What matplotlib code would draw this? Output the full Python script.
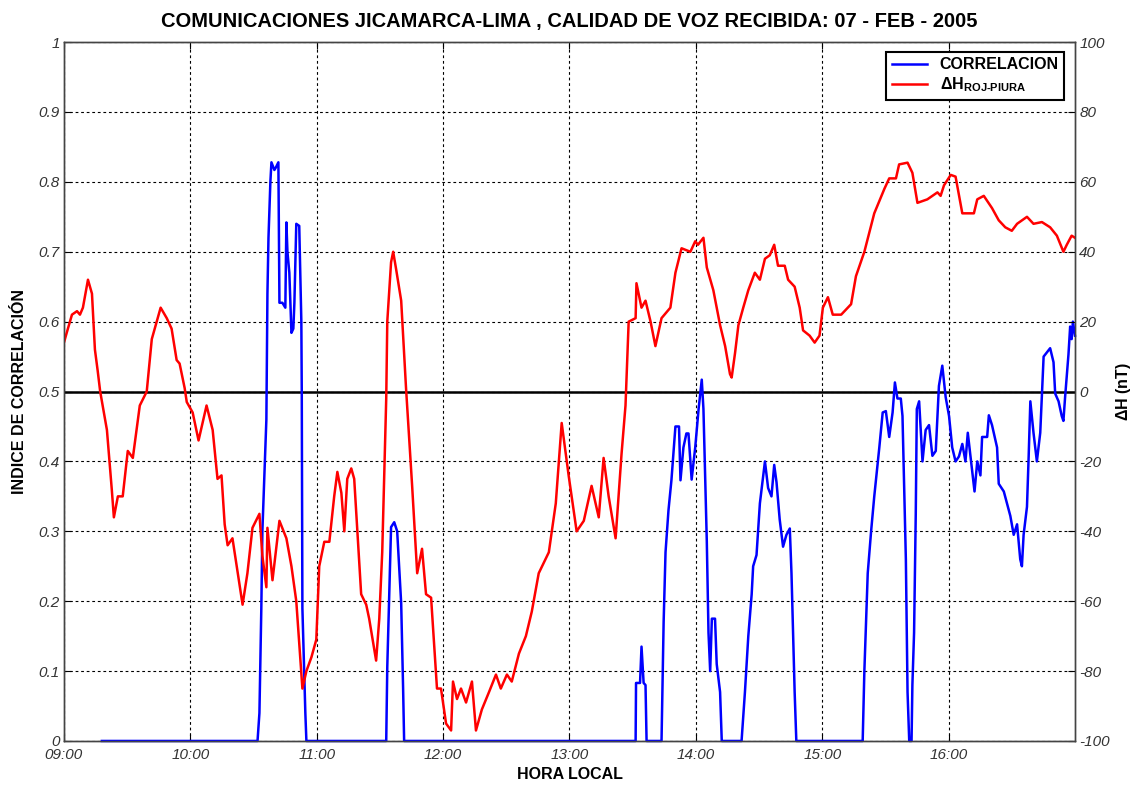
import matplotlib
matplotlib.use("Agg")
import matplotlib.pyplot as plt
import numpy as np

plt.rcParams['font.family'] = ['Liberation Sans', 'DejaVu Sans']
plt.rcParams['mathtext.fontset'] = 'custom'
plt.rcParams['mathtext.rm'] = 'Liberation Sans'
plt.rcParams['mathtext.bf'] = 'Liberation Sans:bold'

# minutes after 09:00 and Delta H (nT), Rojas - Piura
dh_min = [0, 1.4, 3.8, 6.2, 7.6, 9.0, 11.4, 13.3, 14.7, 16.0, 17.2, 20.4, 22.7, 23.7,
          25.6, 27.9, 30.3, 32.7, 36.0, 39.3, 41.7, 45.9, 48.8, 51.1, 53.5, 54.9, 57.3,
          58.3, 61.1, 63.9, 67.7, 70.6, 72.9, 74.8, 76.3, 77.7, 80.0, 84.8, 87.1, 89.5,
          92.8, 94.2, 96.1, 96.6, 99.0, 102.3, 105.6, 108.0, 110.3, 113.2, 115.1, 117.5,
          119.8, 121.2, 123.6, 126.0, 128.3, 129.8, 131.7, 133.1, 134.5, 136.4, 137.8,
          141.1, 143.5, 144.9, 148.2, 149.7, 151.1, 153.0, 153.5, 155.3, 156.3, 157.7,
          160.1, 162.4, 165.3, 167.7, 170.0, 171.9, 174.3, 177.1, 179.0, 181.4, 183.8,
          184.7, 186.6, 188.5, 190.9, 193.7, 195.6, 198.4, 201.8, 205.1, 207.4, 210.3,
          212.6, 216.0, 219.3, 222.1, 225.4, 230.2, 233.5, 236.3, 239.6, 243.4, 246.8,
          250.5, 253.9, 256.2, 258.6, 261.9, 264.7, 266.6, 268.1, 271.4, 271.8, 274.2,
          276.1, 278.5, 280.8, 283.7, 287.9, 290.3, 293.2, 297.4, 299.7, 301.0, 303.6,
          305.2, 308.3, 311.5, 313.9, 316.2, 317.0, 318.6, 320.2, 322.5, 324.9, 328.0,
          330.4, 332.8, 335.1, 337.2, 339.0, 342.2, 343.8, 346.9, 349.3, 350.9, 354.0,
          356.4, 358.7, 360.3, 362.7, 365.0, 369.0, 373.7, 376.0, 380.0, 384.7, 389.5,
          391.8, 395.0, 396.5, 400.5, 402.8, 405.2, 409.9, 414.7, 416.2, 417.8, 421.0,
          423.3, 426.5, 432.0, 433.6, 436.7, 440.6, 443.8, 446.9, 450.0, 452.5, 457.2,
          460.3, 464.3, 468.2, 471.4, 474.5, 476.1, 478.4, 480.0]
dh_nt = [14, 17, 22, 23, 22, 24, 32, 28, 12, 6, 0, -11, -28, -36,
         -30, -30, -17, -19, -4, 0, 15, 24, 21, 18, 9, 8, 1,
         -3, -6, -14, -4, -11, -25, -24, -38, -44, -42, -61, -52, -39,
         -35, -47, -56, -39, -54, -37, -42, -50, -60, -85, -80, -76,
         -71, -50, -43, -43, -30, -23, -29, -40, -25, -22, -25,
         -58, -61, -65, -77, -65, -46, -2, 20, 37, 40, 35,
         26, 1, -27, -52, -45, -58, -59, -85, -85, -95, -97,
         -83, -88, -85, -89, -83, -97, -91, -86, -81, -85, -81,
         -83, -75, -70, -63, -52, -46, -32, -9, -24, -40, -37,
         -27, -36, -19, -30, -42, -18, -4, 20, 21, 31, 24,
         26, 20, 13, 21, 24, 34, 41, 40, 43, 42, 44,
         35.5, 29, 19, 13, 5, 4, 11, 19, 24, 29, 34,
         32, 38, 39, 42, 36, 36, 32, 30, 24, 17.5, 16,
         14, 16, 24, 27, 22, 22, 25, 33, 40, 51, 58,
         61, 61, 65, 65.5, 62.6, 54, 55, 57, 56, 59, 62,
         61.5, 51, 51, 55, 56, 52.5, 49, 47, 46, 48, 50,
         48, 48.5, 47, 44.6, 40, 42, 44.6, 44]

# minutes after 09:00 and voice correlation index
corr_min = [18.0, 91.9, 92.8, 93.7, 94.2, 96.1, 96.6, 97.1, 98.0, 98.5, 99.9, 100.5,
            101.8, 102.3, 103.7, 105.1, 105.6, 106.1, 107.0, 108.0, 108.9, 109.4, 110.3,
            111.7, 112.7, 112.9, 113.2, 114.6, 115.1,
            153.0, 153.5, 155.3, 156.8, 158.2, 160.1, 161.0, 161.5,
            271.4, 271.6, 273.5, 274.2, 275.2, 276.1, 276.6,
            283.7, 284.7, 285.6, 287.0, 288.4, 290.3, 292.0, 292.7, 294.1, 295.5, 296.5,
            298.0, 299.7, 301.3, 302.8, 303.6, 304.4, 305.2, 306.0, 306.8, 307.6, 309.1,
            309.9, 311.5, 312.3,
            321.7, 323.3, 324.9, 326.5, 327.2, 328.8, 330.4, 332.0, 332.8, 334.3, 335.9,
            337.2, 338.3, 339.8, 341.4, 343.0, 344.6, 345.4, 346.9, 347.7,
            379.2, 380.0, 381.6, 383.2, 384.7, 387.1, 388.7, 390.2, 391.8, 393.4, 394.5,
            395.7, 397.3, 398.1, 399.7, 400.5, 401.3, 402.4, 402.8, 403.6, 404.4, 404.9,
            406.0, 407.6, 409.1, 410.7, 412.3, 413.9, 415.4, 417.0, 418.6, 420.2, 421.7,
            423.3, 424.9, 426.5, 428.0, 429.1, 430.4, 432.3, 433.6, 435.1, 435.9, 438.3,
            439.1, 440.6, 443.0, 443.8, 446.2, 447.7, 449.3, 450.9, 452.5, 454.0, 454.8,
            455.6, 457.2, 458.0, 458.8, 460.3, 461.9, 463.5, 465.1, 468.2, 469.8, 470.6,
            472.2, 473.7, 474.5, 475.3, 476.9, 477.7, 478.4, 479.0, 480.0]
corr_val = [0, 0, 0.04, 0.19, 0.30, 0.46, 0.64, 0.72, 0.80, 0.828, 0.817, 0.82,
            0.828, 0.627, 0.627, 0.62, 0.742, 0.70, 0.67, 0.584, 0.59, 0.627, 0.74,
            0.737, 0.60, 0.50, 0.19, 0.04, 0,
            0, 0.106, 0.306, 0.313, 0.30, 0.197, 0.077, 0,
            0, 0.083, 0.083, 0.135, 0.083, 0.08, 0,
            0, 0.17, 0.27, 0.33, 0.373, 0.45, 0.45, 0.373, 0.42, 0.44, 0.44,
            0.374, 0.42, 0.475, 0.517, 0.475, 0.38, 0.285, 0.155, 0.10, 0.175, 0.175,
            0.11, 0.07, 0,
            0, 0.07, 0.15, 0.21, 0.25, 0.266, 0.34, 0.38, 0.40, 0.362, 0.35,
            0.395, 0.37, 0.317, 0.278, 0.295, 0.304, 0.24, 0.07, 0,
            0, 0.10, 0.24, 0.30, 0.35, 0.42, 0.47, 0.472, 0.435, 0.47, 0.513,
            0.49, 0.49, 0.465, 0.26, 0.07, 0, 0, 0.08, 0.155, 0.325, 0.475,
            0.486, 0.40, 0.445, 0.452, 0.408, 0.415, 0.508, 0.537, 0.492, 0.465, 0.42,
            0.40, 0.407, 0.425, 0.40, 0.441, 0.407, 0.357, 0.40, 0.38, 0.435, 0.435,
            0.466, 0.452, 0.42, 0.368, 0.357, 0.34, 0.322, 0.295, 0.31, 0.26, 0.25,
            0.295, 0.335, 0.407, 0.486, 0.441, 0.40, 0.441, 0.55, 0.562, 0.542, 0.497,
            0.486, 0.465, 0.458, 0.492, 0.553, 0.593, 0.575, 0.60, 0.58]

hour_ticks = [9, 10, 11, 12, 13, 14, 15, 16]
hour_labels = ['09:00', '10:00', '11:00', '12:00', '13:00', '14:00', '15:00', '16:00']
corr_ticks = [0, 0.1, 0.2, 0.3, 0.4, 0.5, 0.6, 0.7, 0.8, 0.9, 1]
corr_labels = ['0', '0.1', '0.2', '0.3', '0.4', '0.5', '0.6', '0.7', '0.8', '0.9', '1']
dh_ticks = [-100, -80, -60, -40, -20, 0, 20, 40, 60, 80, 100]

t_dh = 9 + np.array(dh_min) / 60.0
t_corr = 9 + np.array(corr_min) / 60.0

fig = plt.figure(figsize=(11.36, 7.87), dpi=100)
ax1 = fig.add_axes([0.0563, 0.0585, 0.89, 0.888])
ax2 = ax1.twinx()

tick_font = dict(family='Liberation Sans', style='italic', size=11, color='#333333')

ax1.grid(True, color='black', linestyle=(0, (2.5, 2.5)), linewidth=0.8)
ax1.axhline(0.5, color='black', linewidth=1.8, zorder=3)
l1, = ax1.plot(t_corr, corr_val, color='#0000ff', linewidth=1.8, clip_on=False, zorder=4)
ax1.set_xlim(9, 17)
ax1.set_ylim(0, 1)
ax1.set_xticks(hour_ticks)
ax1.set_xticklabels(hour_labels, fontdict=tick_font)
ax1.set_yticks(corr_ticks)
ax1.set_yticklabels(corr_labels, fontdict=tick_font)
ax1.tick_params(direction='in', top=True, length=5)
ax1.tick_params(axis='x', pad=5)
ax1.tick_params(axis='y', pad=3)
ax1.set_xlabel('HORA LOCAL', fontsize=11.5, fontweight='bold', labelpad=4)
ax1.set_ylabel('INDICE DE CORRELACIÓN', fontsize=11.5, fontweight='bold', labelpad=8)
ax1.set_title('COMUNICACIONES JICAMARCA-LIMA , CALIDAD DE VOZ RECIBIDA: 07 - FEB - 2005',
              fontsize=14.5, fontweight='bold', pad=11)

l2, = ax2.plot(t_dh, dh_nt, color='#ff0000', linewidth=1.8)
ax2.set_ylim(-100, 100)
ax2.set_yticks(dh_ticks)
ax2.set_yticklabels([str(v) for v in dh_ticks], fontdict=tick_font)
ax2.tick_params(direction='in', length=5, pad=3)
ax2.set_ylabel(r'$\mathbf{\Delta}$H (nT)', fontsize=11.5, fontweight='bold', labelpad=3)

for ax in (ax1, ax2):
    for s in ax.spines.values():
        s.set_linewidth(1.0)
        s.set_color('#444444')

leg = ax2.legend([l1, l2], ['CORRELACION', r'$\mathbf{\Delta H_{ROJ‐PIURA}}$'],
                 loc='upper right', bbox_to_anchor=(0.9975, 0.9975), fancybox=False,
                 framealpha=1, edgecolor='black', handlelength=2.2,
                 prop=dict(weight='bold', size=11.5), borderpad=0.35, labelspacing=0.2)
leg.get_frame().set_linewidth(1.5)

fig.savefig('out.png', dpi=100)
